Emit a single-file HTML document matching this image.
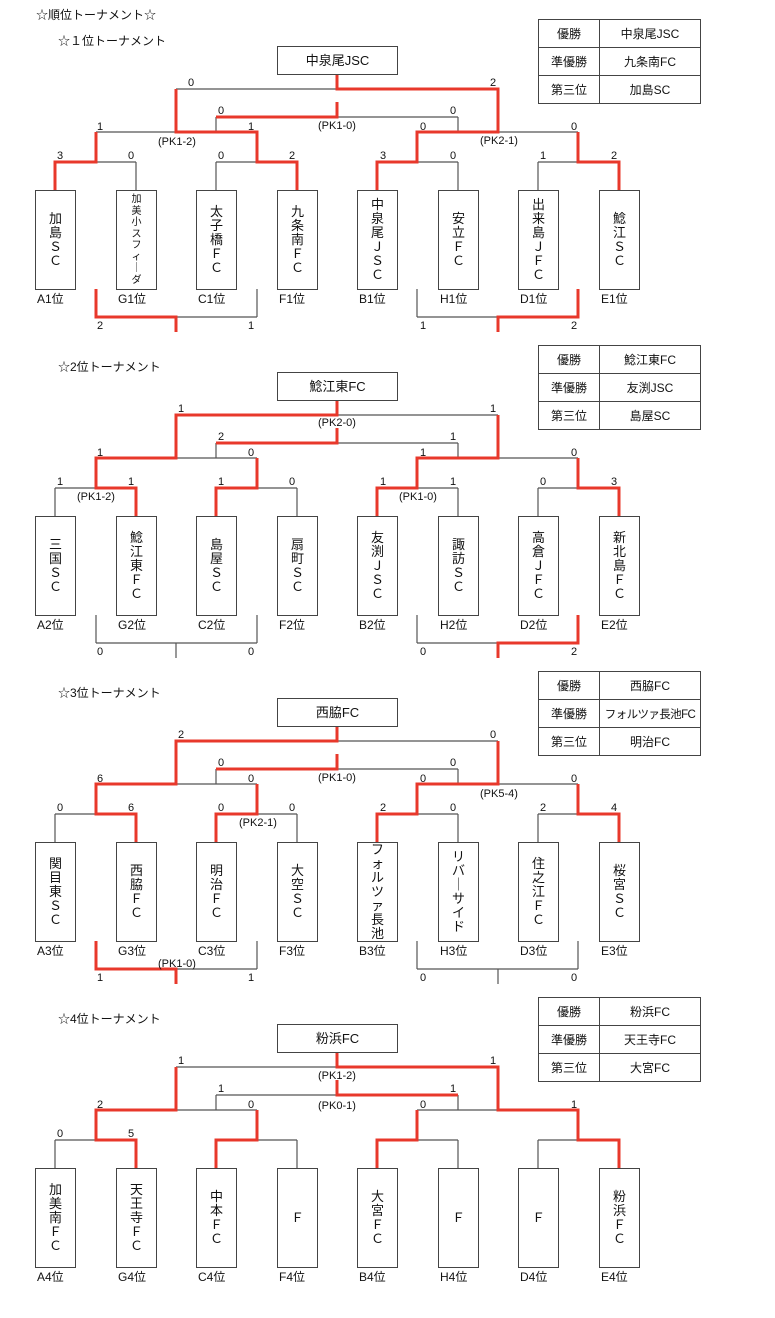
<!DOCTYPE html>
<html><head><meta charset="utf-8"><style>
*{margin:0;padding:0;box-sizing:border-box}
body{width:775px;height:1280px;background:#fff;position:relative;overflow:hidden;font-family:"Liberation Sans","Noto Sans CJK JP",sans-serif;color:#111}
.sec{position:absolute;left:0;width:775px;height:330px}
.sec svg{position:absolute;left:0;top:0}
.t{position:absolute;font-size:12px;white-space:nowrap}
.tb{position:absolute;top:190px;width:41px;height:100px;border:1px solid #444;display:flex;align-items:center;justify-content:center;text-align:center;font-size:13px;line-height:14px;background:#fff}
.sm{font-size:10px;line-height:11.5px}
.lb{position:absolute;top:290px;font-size:12px}
.ch{position:absolute;left:277px;top:46px;width:121px;height:29px;border:1px solid #444;text-align:center;line-height:27px;font-size:13px}
table{position:absolute;left:538px;top:19px;border-collapse:collapse;font-size:12px;table-layout:fixed;width:162px}
td{border:1px solid #444;height:28px;text-align:center;padding:0;white-space:nowrap;overflow:hidden}
td.a{width:61px}td.b{width:101px}
td.n{font-size:11.5px;letter-spacing:-0.6px}
svg text{font-family:"Liberation Sans","Noto Sans CJK JP",sans-serif;font-size:11px;fill:#111}
</style></head><body>
<div class="t" style="left:36px;top:6px">☆順位トーナメント☆</div>

<!-- ===== Section 1 ===== -->
<div class="sec" style="top:0">
<div class="t" style="left:58px;top:32px">☆１位トーナメント</div>
<svg width="775" height="340">
<g stroke="#555" stroke-width="1.2" fill="none">
<path d="M55 162H136M216 162H297M377 162H458M538 162H619"/>
<path d="M55 162V190M136 162V190M216 162V190M297 162V190M377 162V190M458 162V190M538 162V190M619 162V190"/>
<path d="M96 132V162M257 132V162M417 132V162M578 132V162M96 132H257M417 132H578M176 89V132M498 89V132M176 89H498M337 74V89M216 117H458M216 117V132M458 117V132M337 102V117"/>
<path d="M96 289V317M257 289V317M417 289V317M578 289V317M96 317H257M417 317H578M176 317V332M498 317V332"/>
</g>
<g stroke="#e8382b" stroke-width="3" fill="none" stroke-linejoin="miter">
<polyline points="55,190 55,162 96,162 96,132"/>
<polyline points="297,190 297,162 257,162 257,132 176,132 176,89"/>
<polyline points="377,190 377,162 417,162 417,132 498,132 498,89 337,89 337,74"/>
<polyline points="619,190 619,162 578,162 578,132"/>
<polyline points="216,117 337,117 337,102"/>
<polyline points="96,289 96,317 176,317 176,332"/>
<polyline points="578,289 578,317 498,317 498,332"/>
</g>
<text x="57" y="159">3</text><text x="128" y="159">0</text><text x="218" y="159">0</text><text x="289" y="159">2</text>
<text x="380" y="159">3</text><text x="450" y="159">0</text><text x="540" y="159">1</text><text x="611" y="159">2</text>
<text x="97" y="130">1</text><text x="248" y="130">1</text><text x="420" y="130">0</text><text x="571" y="130">0</text>
<text x="218" y="114">0</text><text x="450" y="114">0</text>
<text x="188" y="86">0</text><text x="490" y="86">2</text>
<text x="158" y="145">(PK1-2)</text><text x="318" y="129">(PK1-0)</text><text x="480" y="144">(PK2-1)</text>
<text x="97" y="329">2</text><text x="248" y="329">1</text><text x="420" y="329">1</text><text x="571" y="329">2</text>
</svg>
<div class="ch">中泉尾JSC</div>
<table><tr><td class="a">優勝</td><td class="b">中泉尾JSC</td></tr><tr><td class="a">準優勝</td><td class="b">九条南FC</td></tr><tr><td class="a">第三位</td><td class="b">加島SC</td></tr></table>
<div class="tb" style="left:35px">加<br>島<br>Ｓ<br>Ｃ</div>
<div class="tb sm" style="left:116px">加<br>美<br>小<br>ス<br>フ<br>ィ<br>｜<br>ダ</div>
<div class="tb" style="left:196px">太<br>子<br>橋<br>Ｆ<br>Ｃ</div>
<div class="tb" style="left:277px">九<br>条<br>南<br>Ｆ<br>Ｃ</div>
<div class="tb" style="left:357px">中<br>泉<br>尾<br>Ｊ<br>Ｓ<br>Ｃ</div>
<div class="tb" style="left:438px">安<br>立<br>Ｆ<br>Ｃ</div>
<div class="tb" style="left:518px">出<br>来<br>島<br>Ｊ<br>Ｆ<br>Ｃ</div>
<div class="tb" style="left:599px">鯰<br>江<br>Ｓ<br>Ｃ</div>
<div class="lb" style="left:37px">A1位</div><div class="lb" style="left:118px">G1位</div><div class="lb" style="left:198px">C1位</div><div class="lb" style="left:279px">F1位</div>
<div class="lb" style="left:359px">B1位</div><div class="lb" style="left:440px">H1位</div><div class="lb" style="left:520px">D1位</div><div class="lb" style="left:601px">E1位</div>
</div>

<!-- ===== Section 2 ===== -->
<div class="sec" style="top:326px">
<div class="t" style="left:58px;top:32px">☆2位トーナメント</div>
<svg width="775" height="340">
<g stroke="#555" stroke-width="1.2" fill="none">
<path d="M55 162H136M216 162H297M377 162H458M538 162H619"/>
<path d="M55 162V190M136 162V190M216 162V190M297 162V190M377 162V190M458 162V190M538 162V190M619 162V190"/>
<path d="M96 132V162M257 132V162M417 132V162M578 132V162M96 132H257M417 132H578M176 89V132M498 89V132M176 89H498M337 74V89M216 117H458M216 117V132M458 117V132M337 102V117"/>
<path d="M96 289V317M257 289V317M417 289V317M578 289V317M96 317H257M417 317H578M176 317V332M498 317V332"/>
</g>
<g stroke="#e8382b" stroke-width="3" fill="none">
<polyline points="136,190 136,162 96,162 96,132 176,132 176,89 337,89 337,74"/>
<polyline points="216,190 216,162 257,162 257,132"/>
<polyline points="377,190 377,162 417,162 417,132 498,132 498,89"/>
<polyline points="619,190 619,162 578,162 578,132"/>
<polyline points="216,117 337,117 337,102"/>
<polyline points="578,289 578,317 498,317 498,332"/>
</g>
<text x="57" y="159">1</text><text x="128" y="159">1</text><text x="218" y="159">1</text><text x="289" y="159">0</text>
<text x="380" y="159">1</text><text x="450" y="159">1</text><text x="540" y="159">0</text><text x="611" y="159">3</text>
<text x="97" y="130">1</text><text x="248" y="130">0</text><text x="420" y="130">1</text><text x="571" y="130">0</text>
<text x="218" y="114">2</text><text x="450" y="114">1</text>
<text x="178" y="86">1</text><text x="490" y="86">1</text>
<text x="77" y="174">(PK1-2)</text><text x="399" y="174">(PK1-0)</text><text x="318" y="100">(PK2-0)</text>
<text x="97" y="329">0</text><text x="248" y="329">0</text><text x="420" y="329">0</text><text x="571" y="329">2</text>
</svg>
<div class="ch">鯰江東FC</div>
<table><tr><td class="a">優勝</td><td class="b">鯰江東FC</td></tr><tr><td class="a">準優勝</td><td class="b">友渕JSC</td></tr><tr><td class="a">第三位</td><td class="b">島屋SC</td></tr></table>
<div class="tb" style="left:35px">三<br>国<br>Ｓ<br>Ｃ</div>
<div class="tb" style="left:116px">鯰<br>江<br>東<br>Ｆ<br>Ｃ</div>
<div class="tb" style="left:196px">島<br>屋<br>Ｓ<br>Ｃ</div>
<div class="tb" style="left:277px">扇<br>町<br>Ｓ<br>Ｃ</div>
<div class="tb" style="left:357px">友<br>渕<br>Ｊ<br>Ｓ<br>Ｃ</div>
<div class="tb" style="left:438px">諏<br>訪<br>Ｓ<br>Ｃ</div>
<div class="tb" style="left:518px">高<br>倉<br>Ｊ<br>Ｆ<br>Ｃ</div>
<div class="tb" style="left:599px">新<br>北<br>島<br>Ｆ<br>Ｃ</div>
<div class="lb" style="left:37px">A2位</div><div class="lb" style="left:118px">G2位</div><div class="lb" style="left:198px">C2位</div><div class="lb" style="left:279px">F2位</div>
<div class="lb" style="left:359px">B2位</div><div class="lb" style="left:440px">H2位</div><div class="lb" style="left:520px">D2位</div><div class="lb" style="left:601px">E2位</div>
</div>

<!-- ===== Section 3 ===== -->
<div class="sec" style="top:652px">
<div class="t" style="left:58px;top:32px">☆3位トーナメント</div>
<svg width="775" height="340">
<g stroke="#555" stroke-width="1.2" fill="none">
<path d="M55 162H136M216 162H297M377 162H458M538 162H619"/>
<path d="M55 162V190M136 162V190M216 162V190M297 162V190M377 162V190M458 162V190M538 162V190M619 162V190"/>
<path d="M96 132V162M257 132V162M417 132V162M578 132V162M96 132H257M417 132H578M176 89V132M498 89V132M176 89H498M337 74V89M216 117H458M216 117V132M458 117V132M337 102V117"/>
<path d="M96 289V317M257 289V317M417 289V317M578 289V317M96 317H257M417 317H578M176 317V332M498 317V332"/>
</g>
<g stroke="#e8382b" stroke-width="3" fill="none">
<polyline points="136,190 136,162 96,162 96,132 176,132 176,89 337,89 337,74"/>
<polyline points="216,190 216,162 257,162 257,132"/>
<polyline points="377,190 377,162 417,162 417,132 498,132 498,89"/>
<polyline points="619,190 619,162 578,162 578,132"/>
<polyline points="216,117 337,117 337,102"/>
<polyline points="96,289 96,317 176,317 176,332"/>
</g>
<text x="57" y="159">0</text><text x="128" y="159">6</text><text x="218" y="159">0</text><text x="289" y="159">0</text>
<text x="380" y="159">2</text><text x="450" y="159">0</text><text x="540" y="159">2</text><text x="611" y="159">4</text>
<text x="97" y="130">6</text><text x="248" y="130">0</text><text x="420" y="130">0</text><text x="571" y="130">0</text>
<text x="218" y="114">0</text><text x="450" y="114">0</text>
<text x="178" y="86">2</text><text x="490" y="86">0</text>
<text x="239" y="174">(PK2-1)</text><text x="480" y="145">(PK5-4)</text><text x="318" y="129">(PK1-0)</text>
<text x="158" y="315">(PK1-0)</text>
<text x="97" y="329">1</text><text x="248" y="329">1</text><text x="420" y="329">0</text><text x="571" y="329">0</text>
</svg>
<div class="ch">西脇FC</div>
<table><tr><td class="a">優勝</td><td class="b">西脇FC</td></tr><tr><td class="a">準優勝</td><td class="b n">フォルツァ長池FC</td></tr><tr><td class="a">第三位</td><td class="b">明治FC</td></tr></table>
<div class="tb" style="left:35px">関<br>目<br>東<br>Ｓ<br>Ｃ</div>
<div class="tb" style="left:116px">西<br>脇<br>Ｆ<br>Ｃ</div>
<div class="tb" style="left:196px">明<br>治<br>Ｆ<br>Ｃ</div>
<div class="tb" style="left:277px">大<br>空<br>Ｓ<br>Ｃ</div>
<div class="tb" style="left:357px">フ<br>ォ<br>ル<br>ツ<br>ァ<br>長<br>池</div>
<div class="tb" style="left:438px">リ<br>バ<br>｜<br>サ<br>イ<br>ド</div>
<div class="tb" style="left:518px">住<br>之<br>江<br>Ｆ<br>Ｃ</div>
<div class="tb" style="left:599px">桜<br>宮<br>Ｓ<br>Ｃ</div>
<div class="lb" style="left:37px">A3位</div><div class="lb" style="left:118px">G3位</div><div class="lb" style="left:198px">C3位</div><div class="lb" style="left:279px">F3位</div>
<div class="lb" style="left:359px">B3位</div><div class="lb" style="left:440px">H3位</div><div class="lb" style="left:520px">D3位</div><div class="lb" style="left:601px">E3位</div>
</div>

<!-- ===== Section 4 ===== -->
<div class="sec" style="top:978px">
<div class="t" style="left:58px;top:32px">☆4位トーナメント</div>
<svg width="775" height="340">
<g stroke="#555" stroke-width="1.2" fill="none">
<path d="M55 162H136M216 162H297M377 162H458M538 162H619"/>
<path d="M55 162V190M136 162V190M216 162V190M297 162V190M377 162V190M458 162V190M538 162V190M619 162V190"/>
<path d="M96 132V162M257 132V162M417 132V162M578 132V162M96 132H257M417 132H578M176 89V132M498 89V132M176 89H498M337 74V89M216 117H458M216 117V132M458 117V132M337 102V117"/>
</g>
<g stroke="#e8382b" stroke-width="3" fill="none">
<polyline points="136,190 136,162 96,162 96,132 176,132 176,89"/>
<polyline points="216,190 216,162 257,162 257,132"/>
<polyline points="377,190 377,162 417,162 417,132"/>
<polyline points="619,190 619,162 578,162 578,132 498,132 498,89 337,89 337,74"/>
<polyline points="337,102 337,117 458,117"/>
</g>
<text x="57" y="159">0</text><text x="128" y="159">5</text>
<text x="97" y="130">2</text><text x="248" y="130">0</text><text x="420" y="130">0</text><text x="571" y="130">1</text>
<text x="218" y="114">1</text><text x="450" y="114">1</text>
<text x="178" y="86">1</text><text x="490" y="86">1</text>
<text x="318" y="101">(PK1-2)</text><text x="318" y="131">(PK0-1)</text>
</svg>
<div class="ch">粉浜FC</div>
<table><tr><td class="a">優勝</td><td class="b">粉浜FC</td></tr><tr><td class="a">準優勝</td><td class="b">天王寺FC</td></tr><tr><td class="a">第三位</td><td class="b">大宮FC</td></tr></table>
<div class="tb" style="left:35px">加<br>美<br>南<br>Ｆ<br>Ｃ</div>
<div class="tb" style="left:116px">天<br>王<br>寺<br>Ｆ<br>Ｃ</div>
<div class="tb" style="left:196px">中<br>本<br>Ｆ<br>Ｃ</div>
<div class="tb" style="left:277px">Ｆ</div>
<div class="tb" style="left:357px">大<br>宮<br>Ｆ<br>Ｃ</div>
<div class="tb" style="left:438px">Ｆ</div>
<div class="tb" style="left:518px">Ｆ</div>
<div class="tb" style="left:599px">粉<br>浜<br>Ｆ<br>Ｃ</div>
<div class="lb" style="left:37px">A4位</div><div class="lb" style="left:118px">G4位</div><div class="lb" style="left:198px">C4位</div><div class="lb" style="left:279px">F4位</div>
<div class="lb" style="left:359px">B4位</div><div class="lb" style="left:440px">H4位</div><div class="lb" style="left:520px">D4位</div><div class="lb" style="left:601px">E4位</div>
</div>
</body></html>
